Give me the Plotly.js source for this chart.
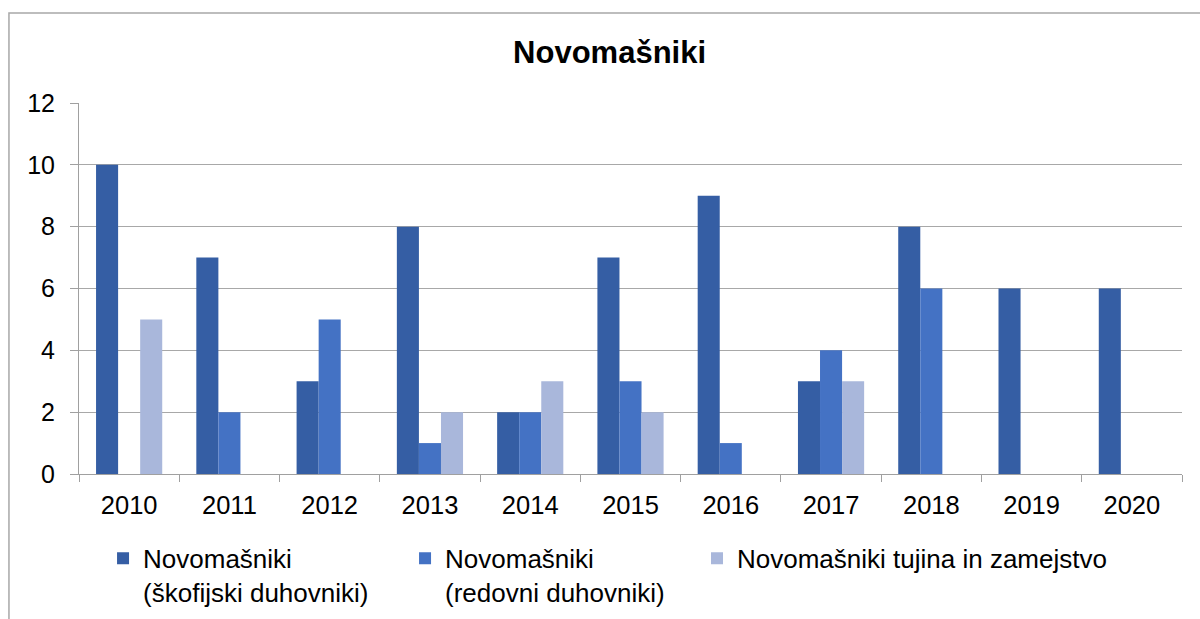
<!DOCTYPE html>
<html>
<head>
<meta charset="utf-8">
<script src="https://cdn.plot.ly/plotly-3.0.1.min.js"></script>
<style>
  body { margin: 0; background: #fff; }
  #chart { width: 1200px; height: 619px; }
</style>
</head>
<body>
<div id="chart"></div>
<script>
let years = ['2010', '2011', '2012', '2013', '2014', '2015', '2016', '2017', '2018', '2019', '2020'];
let skofijski = [10, 7, 3, 8, 2, 7, 9, 3, 8, 6, 6];
let redovni = [0, 2, 5, 1, 2, 3, 1, 4, 6, 0, 0];
let tujina = [5, 0, 0, 2, 3, 2, 0, 3, 0, 0, 0];

let seriesNames = [
    'Novomašniki<br>(škofijski duhovniki)',
    'Novomašniki<br>(redovni duhovniki)',
    'Novomašniki tujina in zamejstvo'
];

function barTrace(values, name, color, legendId) {
    return {
        x: years,
        y: values,
        name: name,
        type: 'bar',
        legend: legendId,
        marker: { color: color, line: { width: 0 } },
        hoverinfo: 'x+y'
    };
}

let data = [
    barTrace(skofijski, seriesNames[0], 'rgb(53,94,164)', 'legend'),
    barTrace(redovni, seriesNames[1], 'rgb(68,114,196)', 'legend2'),
    barTrace(tujina, seriesNames[2], 'rgb(169,183,219)', 'legend3')
];

// one legend box per series, so each entry sits where the reference has it
function legendAt(x) {
    return {
        orientation: 'h',
        xref: 'paper',
        yref: 'container',
        x: x,
        y: 0.136,
        xanchor: 'left',
        yanchor: 'top',
        valign: 'top',
        itemwidth: 30,
        bgcolor: 'rgba(0,0,0,0)',
        font: { size: 26 }
    };
}

let layout = {
    width: 1200,
    height: 619,
    paper_bgcolor: '#fff',
    plot_bgcolor: '#fff',
    font: { family: 'Liberation Sans, Arial, sans-serif', color: '#000', size: 25 },
    title: {
        text: '<b>Novomašniki</b>',
        font: { size: 31 },
        x: 0.508,
        xanchor: 'center',
        y: 0.916,
        yanchor: 'middle'
    },
    margin: { l: 79, r: 18, t: 103, b: 145 },
    barmode: 'group',
    bargap: 0.34,
    bargroupgap: 0,
    showlegend: true,
    legend: legendAt(0.0218),
    legend2: legendAt(0.2956),
    legend3: legendAt(0.5603),
    xaxis: {
        type: 'category',
        showgrid: false,
        showline: true,
        linecolor: '#a0a0a0',
        linewidth: 1,
        ticks: 'outside',
        tickson: 'boundaries',
        ticklen: 7,
        tickcolor: '#a0a0a0',
        tickfont: { size: 25.5 },
        ticklabelstandoff: 8,
        fixedrange: true
    },
    yaxis: {
        range: [0, 12],
        dtick: 2,
        showgrid: true,
        gridcolor: '#a8a8a8',
        gridwidth: 1,
        showline: true,
        linecolor: '#a0a0a0',
        ticks: 'outside',
        ticklen: 8,
        tickcolor: '#a0a0a0',
        tickfont: { size: 25 },
        ticklabelstandoff: 10,
        zeroline: false,
        fixedrange: true
    },
    shapes: [{
        type: 'rect',
        xref: 'paper',
        yref: 'paper',
        x0: -0.0635,
        x1: 1.03,
        y0: -0.45,
        y1: 1.2426,
        line: { color: '#a8a8a8', width: 1.5 },
        layer: 'below'
    }]
};

Plotly.newPlot('chart', data, layout, { displayModeBar: false, staticPlot: true });
</script>
</body>
</html>
